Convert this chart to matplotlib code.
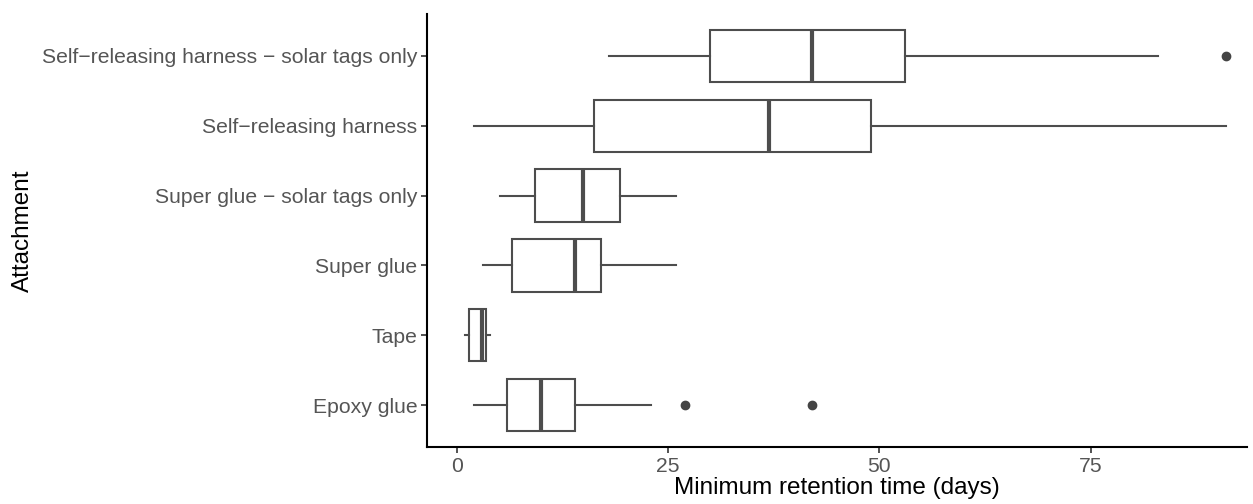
import matplotlib
matplotlib.use("Agg")
import matplotlib.pyplot as plt

categories = ["Epoxy glue", "Tape", "Super glue",
              "Super glue \u2212 solar tags only",
              "Self\u2212releasing harness",
              "Self\u2212releasing harness \u2212 solar tags only"]
whisker_low = [2.1, 1.0, 3.1, 5.1, 2.1, 18.0]
q1 = [6.0, 1.5, 6.5, 9.3, 16.3, 30.0]
median = [10.0, 3.0, 14.0, 15.0, 37.0, 42.0]
q3 = [14.0, 3.5, 17.1, 19.3, 49.0, 53.0]
whisker_high = [23.0, 4.0, 26.0, 26.0, 91.0, 83.0]
outliers = [[27.0, 42.0], [], [], [], [], [91.0]]
xticks = [0, 25, 50, 75]

plt.rcParams['font.family'] = ['Liberation Sans', 'DejaVu Sans']

fig = plt.figure(figsize=(12.53, 5.04), dpi=100)
ax = fig.add_axes([427/1253, 57/504, 820/1253, 433/504])

stats = []
for i, c in enumerate(categories):
    stats.append(dict(label=c, whislo=whisker_low[i], q1=q1[i], med=median[i],
                      q3=q3[i], whishi=whisker_high[i], fliers=outliers[i]))

col = '#4d4d4d'
ax.bxp(stats, positions=range(1, len(categories) + 1), vert=False, widths=0.75,
       showcaps=False, patch_artist=True,
       boxprops=dict(facecolor='white', edgecolor=col, linewidth=1.5),
       whiskerprops=dict(color=col, linewidth=1.5),
       medianprops=dict(color=col, linewidth=3),
       flierprops=dict(marker='o', markerfacecolor='#444444', markeredgecolor='#444444',
                       markersize=6))

ax.set_xlim(-3.5, 93.5)
ax.set_ylim(0.4, 6.6)
ax.set_xticks(xticks)
ax.set_xticklabels([str(t) for t in xticks])
ax.set_yticks(range(1, len(categories) + 1))
ax.set_yticklabels(categories)

for s in ['top', 'right']:
    ax.spines[s].set_visible(False)
for s in ['left', 'bottom']:
    ax.spines[s].set_color('black')
    ax.spines[s].set_linewidth(1.5)

ax.tick_params(axis='both', colors='#333333', length=4, width=1.2,
               labelcolor='#555555', labelsize=15.2, pad=3)
ax.set_xlabel('Minimum retention time (days)', fontsize=17.5, color='black', labelpad=1)
ax.set_ylabel('Attachment', fontsize=17.5, color='black', labelpad=6)

fig.savefig('out.png', dpi=100)
